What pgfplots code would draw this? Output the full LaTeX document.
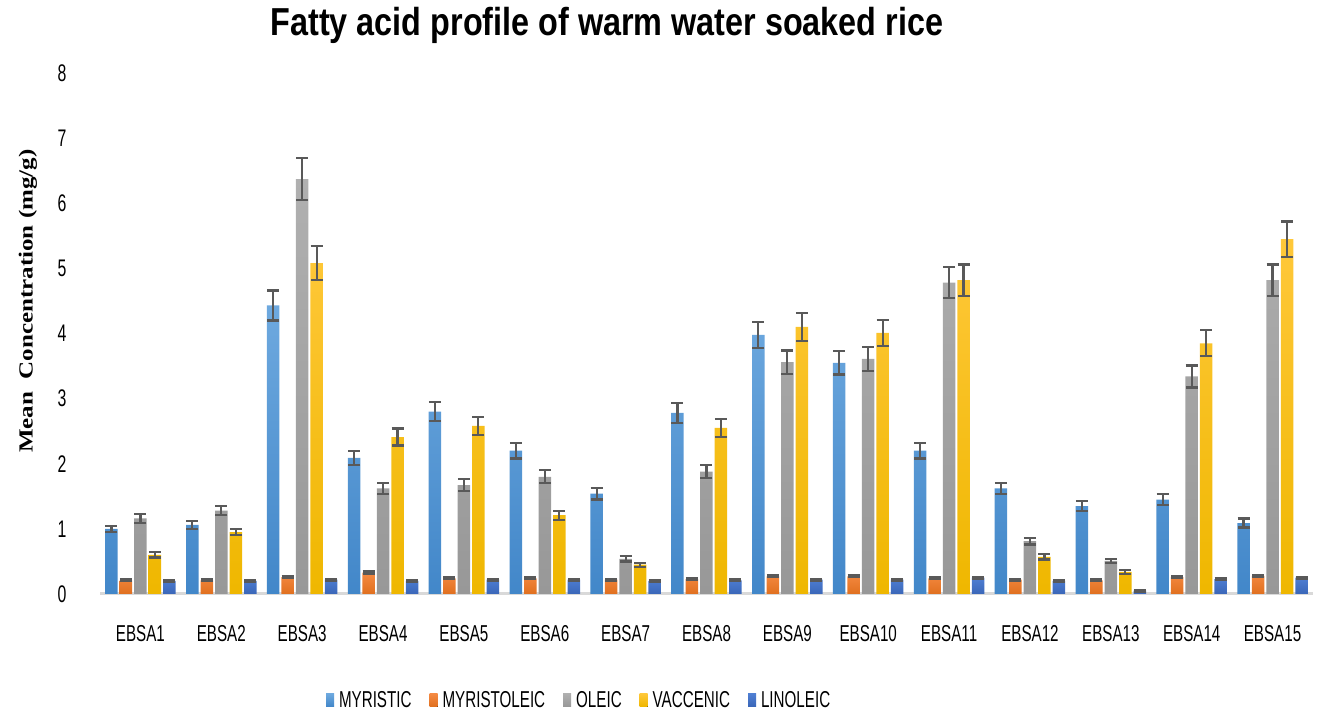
\documentclass[border=0pt]{standalone}
\usepackage{pgfplots}
\pgfplotsset{compat=1.18}
\usepackage{pgfplotstable}
\usepackage{fontspec}
\setmainfont{Liberation Sans}[FakeStretch=0.66]
\newfontfamily\titlefont{Liberation Sans}[FakeStretch=0.83]
\newfontfamily\labelfont{Liberation Serif}[FakeStretch=1.25]

\definecolor{c1t}{HTML}{6EA9DF}\definecolor{c1b}{HTML}{4287C9}
\definecolor{c2t}{HTML}{F58A43}\definecolor{c2b}{HTML}{E0701F}
\definecolor{c3t}{HTML}{B0B0B0}\definecolor{c3b}{HTML}{989898}
\definecolor{c4t}{HTML}{FFC83A}\definecolor{c4b}{HTML}{EFB700}
\definecolor{c5t}{HTML}{4F7FD3}\definecolor{c5b}{HTML}{3A66B8}
\definecolor{errgray}{HTML}{595959}
\definecolor{basegray}{HTML}{D9D9D9}

\pgfplotstableread{
x myr myre myro myroe ole olee vac vace lin line
0  1.00 0.05  0.21 0.015 1.16 0.07 0.60 0.04 0.20 0.015
1  1.06 0.06  0.21 0.015 1.28 0.07 0.95 0.05 0.20 0.015
2  4.43 0.23  0.26 0.015 6.37 0.32 5.08 0.26 0.22 0.015
3  2.09 0.11  0.33 0.015 1.62 0.09 2.41 0.13 0.20 0.015
4  2.80 0.145 0.24 0.015 1.67 0.09 2.58 0.14 0.22 0.015
5  2.20 0.12  0.24 0.015 1.80 0.10 1.21 0.07 0.22 0.015
6  1.54 0.09  0.22 0.015 0.54 0.04 0.45 0.03 0.20 0.015
7  2.78 0.15  0.23 0.015 1.88 0.10 2.55 0.14 0.21 0.015
8  3.98 0.20  0.27 0.015 3.56 0.18 4.10 0.21 0.22 0.015
9  3.55 0.18  0.27 0.015 3.61 0.18 4.01 0.20 0.22 0.015
10 2.20 0.12  0.24 0.015 4.78 0.24 4.82 0.24 0.25 0.015
11 1.62 0.09  0.22 0.015 0.81 0.05 0.57 0.04 0.20 0.015
12 1.35 0.08  0.21 0.015 0.51 0.03 0.34 0.03 0.05 0.015
13 1.45 0.085 0.26 0.015 3.34 0.17 3.85 0.20 0.23 0.015
14 1.09 0.07  0.28 0.015 4.82 0.24 5.45 0.27 0.25 0.015
}\datatable

\begin{document}
\begin{tikzpicture}
\begin{axis}[
  at={(100pt,121pt)}, anchor=south west,
  scale only axis, width=1213pt, height=521pt,
  ymin=0, ymax=8, xmin=-0.5, xmax=14.5,
  ybar=2pt, bar width=12.5pt,
  axis line style={draw=none},
  major tick length=0pt,
  ytick={0,1,...,8},
  xtick={0,...,14},
  xticklabels={EBSA1,EBSA2,EBSA3,EBSA4,EBSA5,EBSA6,EBSA7,EBSA8,EBSA9,EBSA10,EBSA11,EBSA12,EBSA13,EBSA14,EBSA15},
  /pgf/number format/assume math mode=true,
  tick label style={font=\fontsize{23}{23}\selectfont},
  yticklabel style={anchor=center, xshift=-38pt, font=\fontsize{24}{24}\selectfont},
  xticklabel style={anchor=center, yshift=-40pt},
  extra y ticks={0}, extra y tick labels={},
  extra y tick style={grid=major, major grid style={draw=basegray, line width=3pt}},
  ylabel={Mean\ \ Concentration (mg/g)},
  ylabel style={at={(axis description cs:-0.0594,0.562)}, anchor=center,
    font=\labelfont\bfseries\fontsize{20}{20}\selectfont},
  legend style={at={(0.395,-0.2035)}, anchor=center, draw=none, legend columns=5,
    font=\fontsize{23}{23}\selectfont,
    /tikz/every odd column/.append style={column sep=3pt},
    /tikz/every even column/.append style={column sep=16pt}},
  legend image code/.code={\fill[#1] (0pt,-6.5pt) rectangle (8pt,6.5pt);},
  error bars/y dir=both, error bars/y explicit,
  error bars/error bar style={line width=2.2pt, draw=errgray},
  error bars/error mark options={rotate=90, mark size=6pt, line width=2.2pt, draw=errgray},
  clip=false,
]
\addplot[draw=none, top color=c1t, bottom color=c1b] table[x=x, y=myr, y error=myre]{\datatable};
\addplot[draw=none, top color=c2t, bottom color=c2b] table[x=x, y=myro, y error=myroe]{\datatable};
\addplot[draw=none, top color=c3t, bottom color=c3b] table[x=x, y=ole, y error=olee]{\datatable};
\addplot[draw=none, top color=c4t, bottom color=c4b] table[x=x, y=vac, y error=vace]{\datatable};
\addplot[draw=none, top color=c5t, bottom color=c5b] table[x=x, y=lin, y error=line]{\datatable};
\legend{MYRISTIC,MYRISTOLEIC,OLEIC,VACCENIC,LINOLEIC}
\end{axis}
\node[font=\titlefont\bfseries\fontsize{39}{39}\selectfont] at (607pt,690pt) {Fatty acid profile of warm water soaked rice};
\pgfresetboundingbox
\path (0pt,0pt) rectangle (1326pt,715pt);
\end{tikzpicture}
\end{document}
